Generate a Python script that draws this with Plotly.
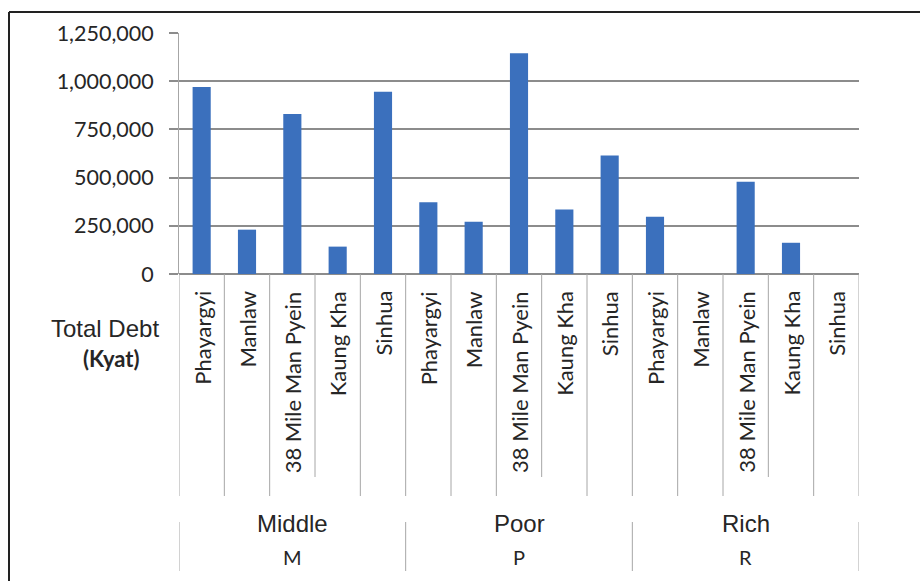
import plotly.graph_objects as go

# Total household debt (Kyat) by wealth group and village
groups = ["Middle", "Poor", "Rich"]
group_codes = ["M", "P", "R"]
villages = ["Phayargyi", "Manlaw", "38 Mile Man Pyein", "Kaung Kha", "Sinhua"]
middle_debt = [970000, 230000, 830000, 142000, 945000]
poor_debt = [372000, 271000, 1145000, 335000, 615000]
rich_debt = [297000, 0, 478000, 162000, 0]
y_ticks = [0, 250000, 500000, 750000, 1000000, 1250000]

debt = middle_debt + poor_debt + rich_debt
labels = villages * len(groups)
xs = list(range(len(debt)))

W, H = 920, 581
L, R, T, B = 179, 859, 33, 274  # plot area in pixels


def px_x(px):
    return (px - L) / (R - L)


def px_y(py):
    return (B - py) / (B - T)


BAR = "#3b70bd"
GRID = "#8c8c8c"
SEP = "#a6a6a6"
TXT = "#262626"

fig = go.Figure(
    go.Bar(x=xs, y=debt, marker_color=BAR, marker_line_width=0, width=0.4)
)

shapes = []
annotations = []

# village separators below the axis
n = len(debt)
for k in range(n + 1):
    xb = k - 0.5
    short = (k % 5) == 3  # line between "38 Mile Man Pyein" and "Kaung Kha"
    shapes.append(dict(type="line", xref="x", yref="paper", x0=xb, x1=xb,
                       y0=0, y1=px_y(477 if short else 496),
                       line=dict(color=SEP, width=1)))

# group separators
for g in range(len(groups) + 1):
    xb = g * 5 - 0.5
    shapes.append(dict(type="line", xref="x", yref="paper", x0=xb, x1=xb,
                       y0=px_y(522), y1=px_y(571),
                       line=dict(color=SEP, width=1)))

# frame lines (top and left)
shapes.append(dict(type="line", xref="paper", yref="paper",
                   x0=px_x(9), x1=px_x(W + 2), y0=px_y(12), y1=px_y(12),
                   line=dict(color="#222222", width=2)))
shapes.append(dict(type="line", xref="paper", yref="paper",
                   x0=px_x(9), x1=px_x(9), y0=px_y(12), y1=px_y(H + 2),
                   line=dict(color="#222222", width=2)))

# rotated village labels
for x, lab in zip(xs, labels):
    annotations.append(dict(x=x, y=px_y(289), xref="x", yref="paper",
                            text=lab, textangle=-90, showarrow=False,
                            xanchor="center", yanchor="top",
                            font=dict(family="Lato", size=22, color=TXT)))

# group labels
for g, (name, code) in enumerate(zip(groups, group_codes)):
    cx = g * 5 + 2
    annotations.append(dict(x=cx, y=px_y(523), xref="x", yref="paper",
                            text=name, showarrow=False,
                            xanchor="center", yanchor="middle",
                            font=dict(family="Liberation Sans", size=24, color=TXT)))
    annotations.append(dict(x=cx, y=px_y(557), xref="x", yref="paper",
                            text=code, showarrow=False,
                            xanchor="center", yanchor="middle",
                            font=dict(family="Lato", size=20, color=TXT)))

# axis caption
annotations.append(dict(x=px_x(105), y=px_y(328), xref="paper", yref="paper",
                        text="Total Debt", showarrow=False,
                        xanchor="center", yanchor="middle",
                        font=dict(family="Liberation Sans", size=24, color=TXT)))
annotations.append(dict(x=px_x(111), y=px_y(358), xref="paper", yref="paper",
                        text="<b>(Kyat)</b>", showarrow=False,
                        xanchor="center", yanchor="middle",
                        font=dict(family="Lato", size=22, color=TXT)))

fig.update_layout(
    width=W, height=H,
    margin=dict(l=L, r=W - R, t=T, b=H - B, pad=0),
    plot_bgcolor="white", paper_bgcolor="white",
    showlegend=False,
    shapes=shapes, annotations=annotations,
    xaxis=dict(range=[-0.5, n - 0.5], showticklabels=False, showgrid=False,
               zeroline=False, showline=False, ticks=""),
    yaxis=dict(range=[0, 1250000], tickvals=y_ticks, tickformat=",",
               showgrid=True, gridcolor=GRID, gridwidth=1.5,
               zeroline=True, zerolinecolor=GRID, zerolinewidth=1.5,
               showline=True, linecolor=SEP, linewidth=1,
               ticks="outside", ticklen=9, tickcolor=GRID, tickwidth=1.5,
               ticklabelstandoff=11,
               tickfont=dict(family="Lato", size=21.5, color=TXT)),
)

fig.write_html("out.html")
